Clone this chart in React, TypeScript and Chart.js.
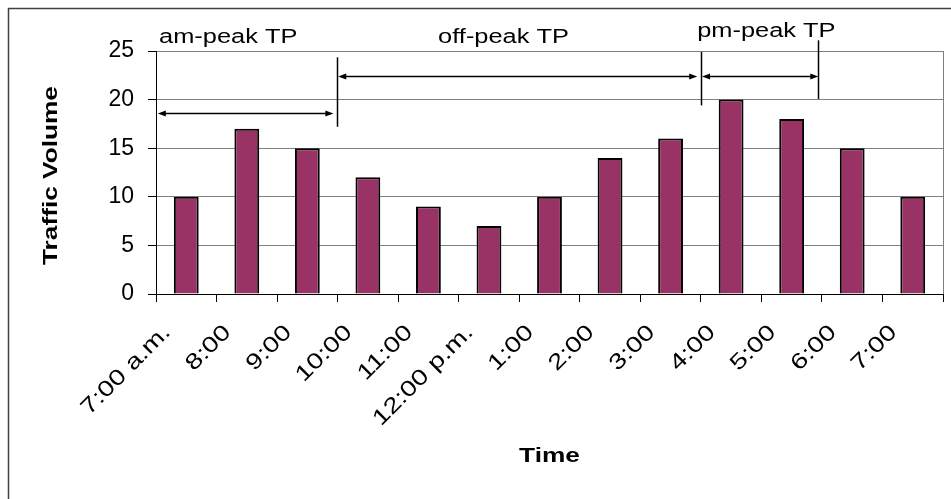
import React, { useEffect, useRef } from "react";
import { Chart, registerables } from "chart.js";

Chart.register(...registerables);

const categories = ["7:00 a.m.", "8:00", "9:00", "10:00", "11:00", "12:00 p.m.", "1:00", "2:00", "3:00", "4:00", "5:00", "6:00", "7:00"];
const trafficVolume = [10, 17, 15, 12, 9, 7, 10, 14, 16, 20, 18, 15, 10];
const yTicks = [0, 5, 10, 15, 20, 25];

// Period annotations, in category-index / data-value units
const periodLabels = ["am-peak TP", "off-peak TP", "pm-peak TP"];
const periodLabelX = [-0.45, 4.16, 8.44];
const periodLabelY = [25.8, 25.8, 26.4];
const arrowFrom = [-0.47, 2.51, 8.52];
const arrowTo = [2.43, 8.44, 10.44];
const arrowY = [18.6, 22.4, 22.4];
const dividerX = [2.49, 8.51, 10.44];
const dividerTop = [24.35, 24.9, 26.1];
const dividerBottom = [17.2, 19.4, 20.06];

const FONT = "'Liberation Sans', Arial, sans-serif";
const STRETCH = 1.27;

function stretchedText(ctx: CanvasRenderingContext2D, text: string, x: number, y: number, font: string, sx: number, align: CanvasTextAlign, baseline: CanvasTextBaseline = "alphabetic") {
  ctx.save();
  ctx.translate(x, y);
  ctx.scale(sx, 1);
  ctx.font = font;
  ctx.textAlign = align;
  ctx.textBaseline = baseline;
  ctx.fillStyle = "#000";
  ctx.fillText(text, 0, 0);
  ctx.restore();
}

function arrowHead(ctx: CanvasRenderingContext2D, x: number, y: number, dir: number) {
  ctx.beginPath();
  ctx.moveTo(x, y);
  ctx.lineTo(x - dir * 8, y - 3);
  ctx.lineTo(x - dir * 8, y + 3);
  ctx.closePath();
  ctx.fill();
}

const decorPlugin = {
  id: "decor",
  beforeDraw(chart: any) {
    const ctx = chart.ctx as CanvasRenderingContext2D;
    ctx.save();
    ctx.fillStyle = "#fff";
    ctx.fillRect(0, 0, chart.width, chart.height);
    ctx.strokeStyle = "#404040";
    ctx.lineWidth = 1.5;
    ctx.beginPath();
    ctx.moveTo(8.5, chart.height + 5);
    ctx.lineTo(8.5, 8.5);
    ctx.lineTo(chart.width + 5, 8.5);
    ctx.stroke();
    ctx.restore();
  },
  afterDraw(chart: any) {
    const ctx = chart.ctx as CanvasRenderingContext2D;
    const xs = chart.scales.x;
    const ys = chart.scales.y;
    const area = chart.chartArea;
    ctx.save();
    // plot area right border
    ctx.strokeStyle = "#808080";
    ctx.lineWidth = 1;
    ctx.beginPath();
    ctx.moveTo(Math.round(area.right) + 0.5, area.top);
    ctx.lineTo(Math.round(area.right) + 0.5, area.bottom);
    ctx.stroke();

    // category tick labels (stretched, rotated 45°)
    for (let i = 0; i < categories.length; i++) {
      const cx = xs.getPixelForValue(i) - 19;
      const cy = area.bottom + 35;
      ctx.save();
      ctx.translate(cx, cy);
      ctx.rotate(-Math.PI / 4);
      stretchedText(ctx, categories[i], 0, 0, `22px ${FONT}`, STRETCH, "right", "middle");
      ctx.restore();
    }

    const px = (v: number) => xs.getPixelForValue(0) + v * (xs.getPixelForValue(1) - xs.getPixelForValue(0));
    ctx.strokeStyle = "#000";
    ctx.fillStyle = "#000";
    ctx.lineWidth = 1.5;
    for (let i = 0; i < dividerX.length; i++) {
      const x = Math.round(px(dividerX[i])) + 0.5;
      ctx.beginPath();
      ctx.moveTo(x, ys.getPixelForValue(dividerTop[i]));
      ctx.lineTo(x, ys.getPixelForValue(dividerBottom[i]));
      ctx.stroke();
    }
    for (let i = 0; i < arrowFrom.length; i++) {
      const x1 = px(arrowFrom[i]);
      const x2 = px(arrowTo[i]);
      const y = Math.round(ys.getPixelForValue(arrowY[i])) + 0.5;
      ctx.beginPath();
      ctx.moveTo(x1 + 4, y);
      ctx.lineTo(x2 - 4, y);
      ctx.stroke();
      arrowHead(ctx, x1, y, -1);
      arrowHead(ctx, x2, y, 1);
    }
    for (let i = 0; i < periodLabels.length; i++) {
      stretchedText(ctx, periodLabels[i], px(periodLabelX[i]), ys.getPixelForValue(periodLabelY[i]), `20px ${FONT}`, STRETCH, "left");
    }
    // axis titles
    stretchedText(ctx, "Time", (area.left + area.right) / 2, 462, `bold 21px ${FONT}`, 1.25, "center");
    ctx.save();
    ctx.translate(57, (area.top + area.bottom) / 2 + 3);
    ctx.rotate(-Math.PI / 2);
    stretchedText(ctx, "Traffic Volume", 0, 0, `bold 21px ${FONT}`, 1.25, "center");
    ctx.restore();
    ctx.restore();
  },
};

export default function App() {
  const ref = useRef<HTMLCanvasElement | null>(null);
  useEffect(() => {
    if (!ref.current) return;
    const chart = new Chart(ref.current, {
      type: "bar",
      data: {
        labels: categories,
        datasets: [
          {
            label: "Traffic Volume",
            data: trafficVolume,
            backgroundColor: "#993366",
            borderColor: "#000",
            borderWidth: 2,
            categoryPercentage: 1,
            barPercentage: 0.41,
          },
        ],
      },
      options: {
        responsive: false,
        animation: false,
        events: [],
        layout: { padding: { top: 51, right: 8, left: 0, bottom: 0 } },
        plugins: { legend: { display: false }, tooltip: { enabled: false }, title: { display: false } },
        scales: {
          x: {
            offset: true,
            grid: { offset: true, drawOnChartArea: false, drawTicks: true, tickLength: 8, tickColor: "#000", color: "#000" },
            border: { color: "#000", width: 1 },
            ticks: { display: false, autoSkip: false },
            afterFit: (s: any) => { s.height = 205; },
          },
          y: {
            min: 0,
            max: 25,
            afterBuildTicks: (s: any) => { s.ticks = yTicks.map((v) => ({ value: v })); },
            grid: { color: "#808080", tickLength: 8, tickColor: "#000", lineWidth: 1 },
            border: { color: "#000", width: 1 },
            ticks: { color: "#000", padding: 14, font: { family: FONT, size: 23 } },
            afterFit: (s: any) => { s.width = 156; },
          },
        },
      },
      plugins: [decorPlugin],
    });
    return () => chart.destroy();
  }, []);
  return (
    <div style={{ position: "absolute", left: 0, top: 0, width: 951, height: 499 }}>
      <canvas ref={ref} width={951} height={499} style={{ display: "block" }} />
    </div>
  );
}
